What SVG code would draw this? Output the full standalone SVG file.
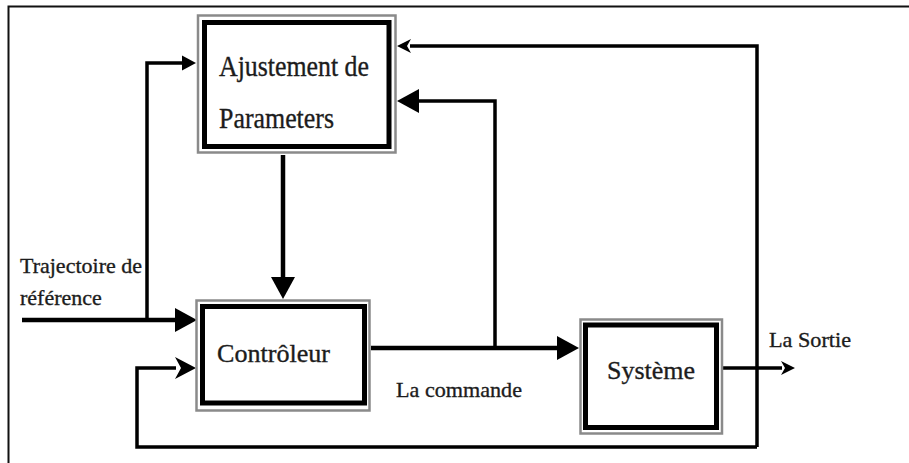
<svg xmlns="http://www.w3.org/2000/svg" width="909" height="463" viewBox="0 0 909 463">
<style>
  .frame{fill:none;stroke:#111;stroke-width:2}
  .outer{fill:none;stroke:#8a8a8a;stroke-width:2.5}
  .inner{fill:#fff;stroke:#000;stroke-width:5}
  .lbl{font-family:"Liberation Serif","Times New Roman",serif;fill:#1c1c1c;stroke:#1c1c1c;stroke-width:0.35}
  .wire{fill:none;stroke:#000;stroke-width:3.5;stroke-linejoin:miter}
  .thick{stroke-width:4.5}
</style>
<defs>
  <marker id="big" markerUnits="userSpaceOnUse" markerWidth="24" markerHeight="26" refX="0" refY="12" orient="auto" overflow="visible">
    <path d="M0,0 L22,12 L0,24 z" fill="#000"/>
  </marker>
  <marker id="small" markerUnits="userSpaceOnUse" markerWidth="16" markerHeight="16" refX="0" refY="7.5" orient="auto" overflow="visible">
    <path d="M0,0 L14,7.5 L0,15 z" fill="#000"/>
  </marker>
  <marker id="tiny" markerUnits="userSpaceOnUse" markerWidth="16" markerHeight="16" refX="0" refY="7" orient="auto" overflow="visible">
    <path d="M-1,0 L13,7 L-1,14 L3,7 z" fill="#000"/>
  </marker>
  <marker id="chev" markerUnits="userSpaceOnUse" markerWidth="24" markerHeight="24" refX="0" refY="11" orient="auto" overflow="visible">
    <path d="M-1,0 L20,11 L-1,22 L5,11 z" fill="#000"/>
  </marker>
</defs>
<rect width="909" height="463" fill="#fff"/>
<path class="frame" d="M8.5 463 V6.5 H909"/>

<g id="connectors">
  <path class="wire thick" d="M22 320 H175" marker-end="url(#big)"/>
  <path class="wire" d="M147 320 V63 H182" marker-end="url(#small)"/>
  <path class="wire thick" d="M283 155 V277" marker-end="url(#big)"/>
  <path class="wire thick" d="M371 348 H557" marker-end="url(#big)"/>
  <path class="wire" d="M495 348 V101 H419" marker-end="url(#big)"/>
  <path class="wire" d="M723 368 H782" marker-end="url(#tiny)"/>
  <path class="wire" d="M757 447 V46 H410" marker-end="url(#tiny)"/>
  <path class="wire" d="M757 447 H137 V368 H176" marker-end="url(#chev)"/>
</g>

<g id="ajustement">
  <rect class="outer" x="198" y="15.5" width="197.5" height="137"/>
  <rect class="inner" x="204.5" y="22.5" width="184.5" height="124"/>
  <text class="lbl" x="219" y="76" font-size="29" textLength="150" lengthAdjust="spacingAndGlyphs">Ajustement de</text>
  <text class="lbl" x="219" y="128" font-size="29" textLength="115" lengthAdjust="spacingAndGlyphs">Parameters</text>
</g>

<g id="controleur">
  <rect class="outer" x="196.5" y="300.5" width="173" height="110"/>
  <rect class="inner" x="202.5" y="306.5" width="162" height="96.5"/>
  <text class="lbl" x="217" y="362" font-size="25" textLength="113" lengthAdjust="spacingAndGlyphs">Contrôleur</text>
</g>

<g id="systeme">
  <rect class="outer" x="580.5" y="319.5" width="141.5" height="114"/>
  <rect class="inner" x="585.5" y="325" width="131" height="102.5"/>
  <text class="lbl" x="607" y="379" font-size="26" textLength="88" lengthAdjust="spacingAndGlyphs">Système</text>
</g>

<g id="labels">
  <text class="lbl" x="20" y="273" font-size="22" textLength="122" lengthAdjust="spacingAndGlyphs">Trajectoire de</text>
  <text class="lbl" x="20" y="305" font-size="22">référence</text>
  <text class="lbl" x="396" y="397" font-size="22" textLength="126" lengthAdjust="spacingAndGlyphs">La commande</text>
  <text class="lbl" x="769" y="347" font-size="22" textLength="82" lengthAdjust="spacingAndGlyphs">La Sortie</text>
</g>
</svg>
